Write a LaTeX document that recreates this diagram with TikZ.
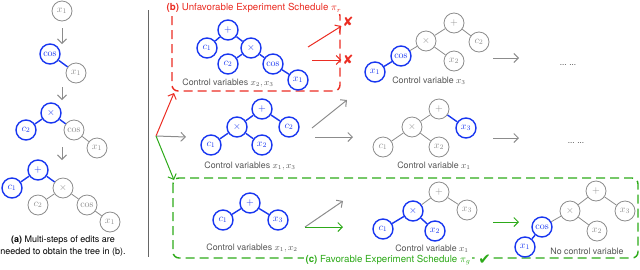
\documentclass[tikz,border=0pt]{standalone}
\usepackage[no-math]{fontspec}
\setmainfont{TeX Gyre Heros}
\newfontfamily\markfont{DejaVu Sans}
\usetikzlibrary{arrows.meta,positioning,calc}
\definecolor{treeblue}{RGB}{25,55,240}
\definecolor{treegray}{RGB}{140,140,140}
\definecolor{labelgray}{RGB}{85,85,85}
\definecolor{schedred}{RGB}{235,45,35}
\definecolor{schedgreen}{RGB}{45,170,25}
\tikzset{
	tnode/.style={circle,draw=treegray,line width=0.8pt,minimum size=20pt,inner sep=0pt,font=\fontsize{10}{10}\selectfont,text=treegray},
	bnode/.style={tnode,draw=treeblue,line width=1.4pt,text=treeblue},
	gedge/.style={draw=treegray,line width=0.8pt},
	bedge/.style={draw=treeblue,line width=1.4pt},
	garrow/.style={-{Straight Barb[length=4.5pt,width=9pt]},treegray,line width=1pt},
	rarrow/.style={garrow,schedred},
	sarrow/.style={garrow,schedgreen},
	ctrl/.style={font=\fontsize{8.8}{10}\selectfont,text=labelgray,inner sep=1pt},
	schedbox/.style={line width=1.4pt,dash pattern=on 9pt off 5pt,rounded corners=6pt},
	schedtitle/.style={fill=white,font=\fontsize{9.7}{11}\selectfont,inner sep=1.5pt}
}
\newcommand{\ctrltext}[3]{\node[ctrl] (#1) at #2 {#3};}
\newcommand{\moredots}[2]{\node[text=black!80,font=\footnotesize] (#1) at #2 {... ...};}

\begin{document}
\begin{tikzpicture}[x=1pt,y=-1pt]
	\useasboundingbox (0,0) rectangle (640,269);
	\node[tnode] (a1x) at (62,11) {$x_1$};
	\node[bnode] (a2cos) at (50,54) {$\cos$};
	\node[tnode] (a2x) at (76,73) {$x_1$};
	\node[bnode] (a3mul) at (51,113) {$\times$};
	\node[bnode] (a3c) at (26,130) {$c_2$};
	\node[tnode] (a3cos) at (74,130) {$\cos$};
	\node[tnode] (a3x) at (97,148) {$x_1$};
	\node[bnode] (a4add) at (38,170) {$+$};
	\node[bnode] (a4c1) at (12,188) {$c_1$};
	\node[tnode] (a4mul) at (63,188) {$\times$};
	\node[tnode] (a4c2) at (38,205) {$c_2$};
	\node[tnode] (a4cos) at (87,205) {$\cos$};
	\node[tnode] (a4x) at (110,222) {$x_1$};
	\draw[bedge] (a2cos) -- (a2x);
	\draw[bedge] (a3mul) -- (a3c); \draw[bedge] (a3mul) -- (a3cos); \draw[gedge] (a3cos) -- (a3x);
	\draw[bedge] (a4add) -- (a4c1); \draw[bedge] (a4add) -- (a4mul);
	\draw[gedge] (a4mul) -- (a4c2); \draw[gedge] (a4mul) -- (a4cos); \draw[gedge] (a4cos) -- (a4x);
	\coordinate (a1s) at (62,28); \coordinate (a1e) at (62,44);
	\coordinate (a2s) at (62,87); \coordinate (a2e) at (62,100);
	\coordinate (a3s) at (62,147); \coordinate (a3e) at (62,160);
	\draw[garrow] (a1s) -- (a1e); \draw[garrow] (a2s) -- (a2e); \draw[garrow] (a3s) -- (a3e);
	\node[font=\fontsize{9}{12}\selectfont,align=center] (acap) at (63,246) {\textbf{(a)} Multi-steps of edits are\\needed to obtain the tree in (b).};
	\draw[line width=0.8pt,black!60] (148,10) -- (148,257);

	\draw[schedbox,schedred] (172,10) rectangle (340,91);
	\node[schedtitle,text=schedred] (btitle) at (254,8) {\textbf{(b)} Unfavorable Experiment Schedule $\pi_r$};
	\draw[schedbox,schedgreen] (173,178) rectangle (638,258);
	\node[schedtitle,text=schedgreen] (ctitle) at (388,260) {\textbf{(c)} Favorable Experiment Schedule $\pi_g$};
	\node[fill=white,text=schedgreen,font=\markfont\fontsize{15}{15}\selectfont,inner sep=1pt,right=5pt of ctitle] (ccheck) {✔};

	\node[bnode] (badd) at (228,30) {$+$};
	\node[bnode] (bc1) at (207,48) {$c_1$};
	\node[bnode] (bmul) at (251,48) {$\times$};
	\node[bnode] (bc2) at (228,64) {$c_2$};
	\node[bnode] (bcos) at (273,64) {$\cos$};
	\node[bnode] (bx1) at (298,80) {$x_1$};
	\draw[bedge] (badd) -- (bc1); \draw[bedge] (badd) -- (bmul); \draw[bedge] (bmul) -- (bc2);
	\draw[bedge] (bmul) -- (bcos); \draw[bedge] (bcos) -- (bx1);
	\ctrltext{bctrl}{(228,83)}{Control variables $x_2,x_3$}
	\node[text=schedred,font=\markfont\bfseries\fontsize{13}{13}\selectfont,inner sep=1pt] (bno1) at (348,22) {✘};
	\node[text=schedred,font=\markfont\bfseries\fontsize{13}{13}\selectfont,inner sep=1pt] (bno2) at (348,60) {✘};
	\coordinate (br1) at (308,47); \coordinate (br2) at (312,60);
	\draw[rarrow] (br1) -- (bno1); \draw[rarrow] (br2) -- (bno2);

	\node[tnode] (tadd) at (454,23) {$+$};
	\node[tnode] (tmul) at (426,41) {$\times$};
	\node[tnode] (tc2) at (479,42) {$c_2$};
	\node[bnode] (tcos) at (401,56) {$\cos$};
	\node[tnode] (tx2) at (454,61) {$x_2$};
	\node[bnode] (tx1) at (375,72) {$x_1$};
	\draw[gedge] (tadd) -- (tmul); \draw[gedge] (tadd) -- (tc2); \draw[gedge] (tmul) -- (tcos);
	\draw[gedge] (tmul) -- (tx2); \draw[bedge] (tcos) -- (tx1);
	\ctrltext{tctrl}{(429,81)}{Control variable $x_3$}
	\coordinate (ts) at (493,58); \coordinate (te) at (519,58);
	\draw[garrow] (ts) -- (te);
	\moredots{tdots}{(568,65)}

	\coordinate (split) at (156,136);
	\coordinate (tored) at (174,93); \coordinate (togray) at (186,137); \coordinate (togreen) at (174,180);
	\draw[rarrow] (split) -- (tored); \draw[garrow] (split) -- (togray); \draw[sarrow] (split) -- (togreen);

	\node[bnode] (madd) at (262,109) {$+$};
	\node[bnode] (mmul) at (237,127) {$\times$};
	\node[bnode] (mc2) at (289,127) {$c_2$};
	\node[bnode] (mc1) at (211,145) {$c_1$};
	\node[bnode] (mx2) at (262,145) {$x_2$};
	\draw[bedge] (madd) -- (mmul); \draw[bedge] (madd) -- (mc2); \draw[bedge] (mmul) -- (mc1); \draw[bedge] (mmul) -- (mx2);
	\ctrltext{mctrl}{(250,166)}{Control variables $x_1,x_3$}
	\coordinate (mu1) at (312,128); \coordinate (mu2) at (347,100);
	\coordinate (mr1) at (315,137); \coordinate (mr2) at (353,137);
	\draw[garrow] (mu1) -- (mu2); \draw[garrow] (mr1) -- (mr2);

	\node[tnode] (radd) at (439,109) {$+$};
	\node[tnode] (rmul) at (412,127) {$\times$};
	\node[bnode] (rx3) at (466,128) {$x_3$};
	\node[tnode] (rc1) at (383,147) {$c_1$};
	\node[tnode] (rx2) at (439,147) {$x_2$};
	\draw[gedge] (radd) -- (rmul); \draw[bedge] (radd) -- (rx3); \draw[gedge] (rmul) -- (rc1); \draw[gedge] (rmul) -- (rx2);
	\ctrltext{rctrl}{(434,166)}{Control variable $x_1$}
	\coordinate (rs) at (493,138); \coordinate (re) at (519,138);
	\draw[garrow] (rs) -- (re);
	\moredots{rdots}{(576,143)}

	\node[bnode] (gadd) at (250,203) {$+$};
	\node[bnode] (gc1) at (223,220) {$c_1$};
	\node[bnode] (gx3) at (278,220) {$x_3$};
	\draw[bedge] (gadd) -- (gc1); \draw[bedge] (gadd) -- (gx3);
	\ctrltext{gctrl}{(252,248)}{Control variables $x_1,x_2$}
	\coordinate (gs) at (305,227); \coordinate (gup) at (343,201); \coordinate (gon) at (343,227);
	\draw[garrow] (gs) -- (gup); \draw[sarrow] (gs) -- (gon);

	\node[tnode] (hadd) at (439,192) {$+$};
	\node[bnode] (hmul) at (413,211) {$\times$};
	\node[tnode] (hx3) at (467,210) {$x_3$};
	\node[bnode] (hc1) at (383,229) {$c_1$};
	\node[bnode] (hx2) at (435,231) {$x_2$};
	\draw[gedge] (hadd) -- (hmul); \draw[gedge] (hadd) -- (hx3); \draw[bedge] (hmul) -- (hc1); \draw[bedge] (hmul) -- (hx2);
	\ctrltext{hctrl}{(432,249)}{Control variable $x_1$}
	\coordinate (hs) at (493,222); \coordinate (he) at (519,222);
	\draw[sarrow] (hs) -- (he);

	\node[tnode] (kadd) at (596,191) {$+$};
	\node[tnode] (kmul) at (570,211) {$\times$};
	\node[tnode] (kx3) at (625,211) {$x_3$};
	\node[bnode] (kcos) at (542,227) {$\cos$};
	\node[tnode] (kx2) at (597,231) {$x_2$};
	\node[bnode] (kx1) at (525,247) {$x_1$};
	\draw[gedge] (kadd) -- (kmul); \draw[gedge] (kadd) -- (kx3); \draw[gedge] (kmul) -- (kcos);
	\draw[gedge] (kmul) -- (kx2); \draw[bedge] (kcos) -- (kx1);
	\ctrltext{kctrl}{(587,251)}{No control variable}
\end{tikzpicture}
\end{document}
